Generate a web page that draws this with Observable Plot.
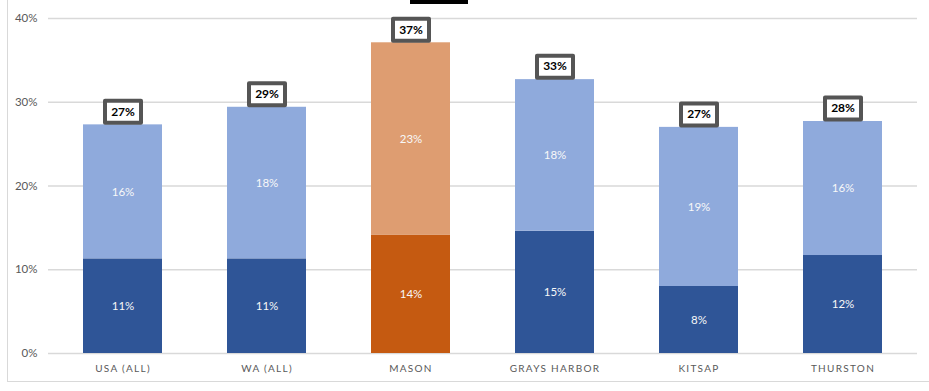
<!DOCTYPE html>
<html>
<head>
<meta charset="utf-8">
<script src="https://cdn.jsdelivr.net/npm/d3@7"></script>
<script src="https://cdn.jsdelivr.net/npm/@observablehq/plot@0.6"></script>
<style>
  html, body { margin: 0; padding: 0; background: #fff; }
  #wrap { position: relative; width: 929px; height: 391px; overflow: hidden; font-family: Lato, "Open Sans", sans-serif; }
  #frame { position: absolute; left: 7px; top: -2px; width: 940px; height: 384px; border-left: 1.5px solid #d9d9d9; border-bottom: 1.5px solid #d9d9d9; box-sizing: border-box; }
  #redact { position: absolute; left: 410px; top: 0; width: 58px; height: 4px; background: #000; }
  #chart { position: absolute; left: 0; top: 0; }
  #chart svg .xaxis text { letter-spacing: 1.3px; }
</style>
</head>
<body>
<div id="wrap">
  <div id="frame"></div>
  <div id="chart"></div>
  <div id="redact"></div>
</div>
<script>
const categories = ["USA (ALL)", "WA (ALL)", "MASON", "GRAYS HARBOR", "KITSAP", "THURSTON"];
const lowerValues = [11.3, 11.3, 14.1, 14.6, 8.0, 11.7];
const upperValues = [16.0, 18.1, 23.0, 18.1, 19.0, 16.0];
const lowerLabels = ["11%", "11%", "14%", "15%", "8%", "12%"];
const upperLabels = ["16%", "18%", "23%", "18%", "19%", "16%"];
const totalLabels = ["27%", "29%", "37%", "33%", "27%", "28%"];
const highlighted = "MASON";
const yTicks = [0, 10, 20, 30, 40];

const rows = [];
categories.forEach((c, i) => {
  const hl = c === highlighted;
  rows.push({cat: c, y1: 0, y2: lowerValues[i], label: lowerLabels[i], key: hl ? "lowOrange" : "lowBlue"});
  rows.push({cat: c, y1: lowerValues[i], y2: lowerValues[i] + upperValues[i], label: upperLabels[i], key: hl ? "highOrange" : "highBlue"});
});
const totals = categories.map((c, i) => ({cat: c, total: lowerValues[i] + upperValues[i], label: totalLabels[i]}));

const boxSymbol = {
  draw(context) {
    context.moveTo(-18, -11);
    context.lineTo(18, -11);
    context.lineTo(18, 11);
    context.lineTo(-18, 11);
    context.closePath();
  }
};

const plot = Plot.plot({
  width: 929,
  height: 391,
  marginLeft: 48,
  marginRight: 12,
  marginTop: 18,
  marginBottom: 38,
  style: {fontFamily: "Lato, 'Open Sans', sans-serif", background: "transparent", overflow: "visible"},
  x: {domain: categories, paddingInner: 0.45, paddingOuter: 0.225, label: null},
  y: {domain: [0, 40], label: null},
  color: {
    domain: ["lowBlue", "highBlue", "lowOrange", "highOrange"],
    range: ["#2F5597", "#8FAADC", "#C55A11", "#DE9D71"]
  },
  marks: [
    Plot.ruleY(yTicks, {stroke: "#d9d9d9", strokeWidth: 1.5}),
    Plot.ruleX([0], {frameAnchor: "left", stroke: "#d9d9d9", strokeWidth: 1.5, y1: 0, y2: 40}),
    Plot.axisY({ticks: yTicks, tickFormat: d => d + "%", tickSize: 0, tickPadding: 11, fontSize: 11.5, color: "#595959", label: null}),
    Plot.axisX({tickSize: 0, tickPadding: 11, fontSize: 10, color: "#595959", label: null, className: "xaxis"}),
    Plot.rectY(rows, {x: "cat", y1: "y1", y2: "y2", fill: "key"}),
    Plot.text(rows, {x: "cat", y: d => (d.y1 + d.y2) / 2, text: "label", fill: "#f8f8f8", fontSize: 11.5, fontWeight: "normal"}),
    Plot.dot(totals, {x: "cat", y: "total", dy: -13, symbol: boxSymbol, fill: "#ffffff", stroke: "#555555", strokeWidth: 4, strokeLinejoin: "round", r: 5}),
    Plot.text(totals, {x: "cat", y: "total", dy: -13, text: "label", fill: "#000000", fontSize: 12, fontWeight: "bold"})
  ]
});
document.getElementById("chart").appendChild(plot);
</script>
</body>
</html>
